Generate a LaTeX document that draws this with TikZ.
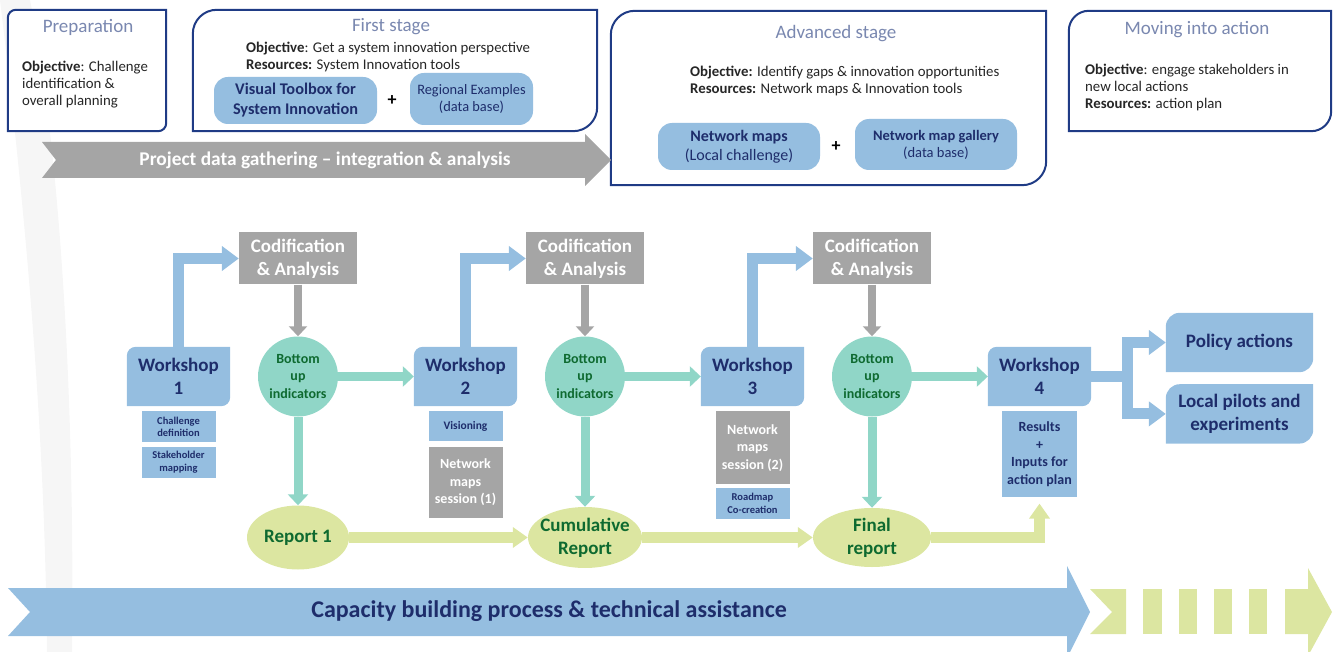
\documentclass[tikz,border=0pt]{standalone}
\usepackage{fontspec}
\setmainfont{Carlito}
\usetikzlibrary{positioning,arrows.meta,backgrounds,shapes.geometric}

\definecolor{framenavy}{HTML}{1F3B85}
\definecolor{navytext}{HTML}{1E2D6B}
\definecolor{titlegrey}{HTML}{7A88B0}
\definecolor{wsblue}{HTML}{95BEE0}
\definecolor{codgrey}{HTML}{A5A5A5}
\definecolor{buteal}{HTML}{90D6C7}
\definecolor{reportgreen}{HTML}{DCE6A1}
\definecolor{darkgreen}{HTML}{0E6A30}

% box with rounded top-left and bottom-right corners
\newcommand{\leaf}[3]{%
  \path[#2] (#1.south west) -- ([yshift=-#3]#1.north west)
    arc[start angle=180,end angle=90,radius=#3] -- (#1.north east)
    -- ([yshift=#3]#1.south east) arc[start angle=0,end angle=-90,radius=#3] -- cycle;}

\begin{document}
\begin{tikzpicture}[x=1pt,y=-1pt,
    every node/.style={inner sep=0pt},
    stagetitle/.style={text=titlegrey,font=\fontsize{19}{21}\selectfont},
    stagetext/.style={anchor=north west,align=left,text=black!85,font=\fontsize{14.8}{17}\selectfont},
    toolbox/.style={fill=wsblue,rounded corners=14pt,text=navytext,align=center},
    plus/.style={font=\bfseries\fontsize{18}{20}\selectfont},
    wsbox/.style={minimum width=103pt,minimum height=59pt,align=center,text=navytext,font=\bfseries\fontsize{19}{23}\selectfont},
    codbox/.style={fill=codgrey,minimum width=118pt,minimum height=52pt,align=center,text=white,font=\bfseries\fontsize{19}{23}\selectfont},
    upcircle/.style={circle,fill=buteal,minimum size=80pt,align=center,text=darkgreen,font=\bfseries\fontsize{14}{17.5}\selectfont},
    report/.style={ellipse,fill=reportgreen,inner sep=-5pt,align=center,text=darkgreen,font=\bfseries\fontsize{19}{23}\selectfont},
    subbox/.style={fill=wsblue,minimum width=74pt,align=center,text=navytext,font=\bfseries\fontsize{10.5}{12.5}\selectfont},
    greysub/.style={fill=codgrey,minimum width=74pt,align=center,text=white,font=\bfseries\fontsize{14}{17.5}\selectfont},
    outcome/.style={minimum width=147pt,minimum height=59pt,align=center,text=navytext,font=\bfseries\fontsize{19}{23}\selectfont},
    blueflow/.style={draw=wsblue,line width=11pt,-{Triangle[width=24pt,length=17pt]}},
    greyflow/.style={draw=codgrey,line width=8pt,-{Triangle[width=18pt,length=10pt]}},
    tealflow/.style={draw=buteal,line width=9pt,-{Triangle[width=20pt,length=11pt]}},
    reportflow/.style={draw=reportgreen,line width=11pt,-{Triangle[width=20pt,length=15pt]}},
  ]
  \useasboundingbox (0,0) rectangle (1338,652);

  % banners
  \fill[codgrey] (42,142) -- (585,142) -- (585,134) -- (611,160) -- (585,186) -- (585,178) -- (42,178) -- (56,160) -- cycle;
  \node[text=white,font=\bfseries\fontsize{19.4}{22}\selectfont] (gather) at (325,160) {Project data gathering – integration \& analysis};
  \fill[wsblue] (8,588) -- (1067,588) -- (1067,566) -- (1090,612) -- (1067,658) -- (1067,636) -- (8,636) -- (30,612) -- cycle;
  \fill[reportgreen] (1090,589) -- (1126,589) -- (1126,634) -- (1090,634) -- (1112,612) -- cycle;
  \foreach \x in {1143,1178.5,1213.5,1248.5}
    \fill[reportgreen] (\x,589) rectangle ++(18.5,45);
  \fill[reportgreen] (1285,589) -- (1308,589) -- (1308,568) -- (1332,612) -- (1308,656) -- (1308,634) -- (1285,634) -- cycle;
  \node[text=navytext,font=\bfseries\fontsize{24}{27}\selectfont] (capacity) at (549,611) {Capacity building process \& technical assistance};

  % stages
  \node[minimum width=158pt,minimum height=121pt] (prep) at (87,70.5) {};
  \node[minimum width=404pt,minimum height=121pt] (first) at (395,70.5) {};
  \node[minimum width=435pt,minimum height=174pt] (adv) at (828.5,98) {};
  \node[minimum width=262pt,minimum height=120pt] (move) at (1200,71) {};
  \node[stagetitle] (preptitle) at (88,27) {Preparation};
  \node[stagetext] (preptext) at (22,60.5) {\textbf{Objective}: Challenge\\identification \&\\overall planning};
  \node[stagetitle] (firsttitle) at (391,27) {First stage};
  \node[stagetext] (firsttext) at (246,41.5) {\textbf{Objective}: Get a system innovation perspective\\\textbf{Resources:} System Innovation tools};
  \node[stagetitle] (advtitle) at (836,34) {Advanced stage};
  \node[stagetext] (advtext) at (690,65.5) {\textbf{Objective:} Identify gaps \& innovation opportunities\\\textbf{Resources:} Network maps \& Innovation tools};
  \node[stagetitle] (movetitle) at (1197,30) {Moving into action};
  \node[stagetext] (movetext) at (1085,63.5) {\textbf{Objective}: engage stakeholders in\\new local actions\\\textbf{Resources:} action plan};

  \node[toolbox,minimum width=163pt,minimum height=47pt,font=\bfseries\fontsize{16.3}{20}\selectfont] (toolbox) at (295.5,100.5) {Visual Toolbox for\\System Innovation};
  \node[plus] (plusa) at (392,101) {+};
  \node[toolbox,minimum width=123pt,minimum height=52pt,font=\fontsize{14.4}{17}\selectfont] (examples) at (471.5,99) {Regional Examples\\(data base)};
  \node[toolbox,minimum width=162pt,minimum height=47pt,font=\fontsize{16}{19}\selectfont] (maps) at (739,146.5) {\textbf{Network maps}\\(Local challenge)};
  \node[plus] (plusb) at (836,147) {+};
  \node[toolbox,minimum width=162pt,minimum height=51pt,font=\fontsize{14.5}{17}\selectfont] (gallery) at (936,144.5) {\textbf{Network map gallery}\\(data base)};

  % workshops
  \node[wsbox] (ws1) at (178.5,376.5) {Workshop\\1};
  \node[wsbox,on grid,right=287pt of ws1] (ws2) {Workshop\\2};
  \node[wsbox,on grid,right=287pt of ws2] (ws3) {Workshop\\3};
  \node[wsbox,on grid,right=287pt of ws3] (ws4) {Workshop\\4};
  \foreach \i in {1,2,3} {
    \node[upcircle,on grid,right=119.5pt of ws\i] (up\i) {Bottom\\up\\indicators};
    \node[codbox,on grid,above=118pt of up\i] (cod\i) {Codification\\\& Analysis};
  }
  \node[report,on grid,below=161pt of up1,minimum width=102pt,minimum height=64pt] (rep1) {Report 1};
  \node[report,on grid,below=161pt of up2,minimum width=114pt,minimum height=61pt] (rep2) {Cumulative\\Report};
  \node[report,on grid,below=161pt of up3,minimum width=118pt,minimum height=59pt] (rep3) {Final\\report};

  \node[subbox,minimum height=31pt,below=5pt of ws1] (challenge) {Challenge\\definition};
  \node[subbox,minimum height=31pt,below=4pt of challenge] (stakeholder) {Stakeholder\\mapping};
  \node[subbox,minimum height=30pt,font=\bfseries\fontsize{11.5}{14}\selectfont,below=5pt of ws2] (vision) {Visioning};
  \node[greysub,minimum height=71pt,below=5pt of vision] (session1) {Network\\maps\\session (1)};
  \node[greysub,minimum height=73pt,below=5pt of ws3] (session2) {Network\\maps\\session (2)};
  \node[subbox,minimum height=31pt,below=3pt of session2] (roadmap) {Roadmap\\Co-creation};
  \node[subbox,minimum width=75pt,minimum height=86pt,font=\bfseries\fontsize{14}{17.5}\selectfont,below=5pt of ws4] (results) {Results\\+\\Inputs for\\action plan};

  \node[outcome] (pol) at (1239.5,342.5) {Policy actions};
  \node[outcome,below=12pt of pol] (loc) {Local pilots and\\experiments};

  % flows
  \foreach \i/\j in {1/2,2/3,3/4} {
    \draw[blueflow] (ws\i.north) |- (cod\i.west);
    \draw[greyflow] (cod\i.south) -- (up\i.north);
    \draw[tealflow] (up\i.east) -- (ws\j.west);
    \draw[tealflow] (up\i.south) -- (rep\i.north);
  }
  \draw[reportflow] (rep1.east) -- (rep2.west);
  \draw[reportflow] (rep2.east) -- (rep3.west);
  \draw[reportflow,shorten >=6pt] (rep3.east) -| (results.south);
  \coordinate (split) at ([xshift=36pt]ws4.east);
  \draw[blueflow,-] (ws4.east) -- (split);
  \draw[blueflow] (split) |- (pol.west);
  \draw[blueflow] (split) |- (loc.west);

  \begin{scope}[on background layer]
    \fill[gray!7] (0,0) .. controls (30,250) and (45,450) .. (47,652) -- (72,652) .. controls (75,400) and (60,150) .. (30,0) -- cycle;
    \foreach \n/\r in {prep/8pt,first/24pt,adv/24pt,move/20pt}
      {\leaf{\n}{fill=white,draw=framenavy,line width=2pt}{\r}}
    \foreach \n in {ws1,ws2,ws3,ws4} {\leaf{\n}{fill=wsblue}{9pt}}
    \foreach \n in {pol,loc} {\leaf{\n}{fill=wsblue}{14pt}}
  \end{scope}
\end{tikzpicture}
\end{document}
